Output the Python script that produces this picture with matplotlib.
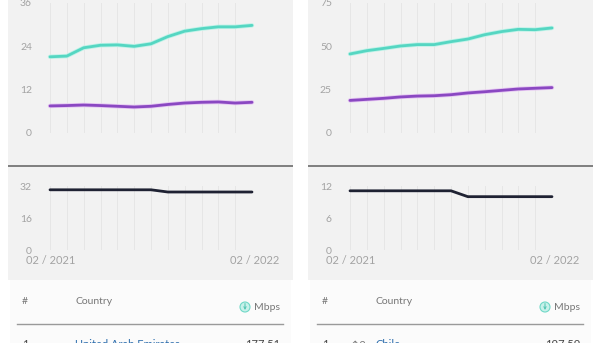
import matplotlib
matplotlib.use("Agg")
import matplotlib.pyplot as plt
import matplotlib.patheffects as pe
from matplotlib.patches import Rectangle, Circle

W, H = 600, 343
plt.rcParams['font.family'] = ['Lato', 'DejaVu Sans']

months = ['02 / 2021', '03 / 2021', '04 / 2021', '05 / 2021', '06 / 2021', '07 / 2021',
          '08 / 2021', '09 / 2021', '10 / 2021', '11 / 2021', '12 / 2021', '01 / 2022', '02 / 2022']

mobile_download = [21.1, 21.3, 23.6, 24.3, 24.4, 24.0, 24.7, 26.7, 28.2, 28.9, 29.4, 29.4, 29.8]
mobile_upload = [7.5, 7.6, 7.75, 7.6, 7.4, 7.2, 7.4, 7.9, 8.3, 8.5, 8.6, 8.3, 8.5]
mobile_latency = [30.1, 30.1, 30.1, 30.1, 30.1, 30.1, 30.1, 29.0, 29.0, 29.0, 29.0, 29.0, 29.0]
mobile_speed_ticks = [0, 12, 24, 36]
mobile_latency_ticks = [0, 16, 32]

fixed_download = [45.6, 47.5, 48.8, 50.2, 51.0, 51.0, 52.7, 54.2, 56.7, 58.5, 59.8, 59.6, 60.6]
fixed_upload = [18.8, 19.4, 20.0, 20.8, 21.3, 21.5, 22.1, 23.1, 23.8, 24.6, 25.4, 25.8, 26.2]
fixed_latency = [11.1, 11.1, 11.1, 11.1, 11.1, 11.1, 11.1, 10.0, 10.0, 10.0, 10.0, 10.0, 10.0]
fixed_speed_ticks = [0, 25, 50, 75]
fixed_latency_ticks = [0, 6, 12]

table_header = ['#', 'Country', 'Mbps']
left_row = ['1', '', 'United Arab Emirates', '177.51']
right_row = ['1', '\u21912', 'Chile', '197.59']

CYAN = '#55d6c2'
PURPLE = '#8a48c2'
DARK = '#1f2233'
TICK = '#a3a3a3'
PANEL = '#f2f2f2'


def box(x0, y0, x1, y1):
    return [x0 / W, 1 - y1 / H, (x1 - x0) / W, (y1 - y0) / H]


fig = plt.figure(figsize=(W / 100, H / 100), dpi=100)
fig.patch.set_facecolor('white')

bg = fig.add_axes([0, 0, 1, 1])
bg.set_xlim(0, W)
bg.set_ylim(H, 0)
bg.axis('off')

for off in (0, 300):
    # gray panel
    bg.add_patch(Rectangle((off + 8, -5), 285, 285, facecolor=PANEL, edgecolor='none'))
    # table area
    bg.add_patch(Rectangle((off + 10, 280), 281, 70, facecolor='#fbfbfb', edgecolor='none'))
    # divider
    bg.plot([off + 8, off + 293], [166, 166], color='#6b6b6b', lw=1.2, solid_capstyle='butt')


def style(ax, ticks, pad):
    ax.set_facecolor('none')
    for s in ax.spines.values():
        s.set_visible(False)
    ax.set_xlim(0, len(months) - 1)
    ax.set_ylim(ticks[0], ticks[-1])
    ax.set_yticks(ticks)
    ax.set_yticklabels([str(t) for t in ticks])
    ax.set_xticks(range(len(months)))
    ax.set_xticklabels([])
    ax.tick_params(axis='both', length=0, labelsize=7.5, labelcolor=TICK, pad=pad)
    ax.grid(axis='x', color='#e6e6e6', lw=0.7)
    ax.grid(axis='y', visible=False)
    ax.set_axisbelow(True)


panels = [
    (0, mobile_download, mobile_upload, mobile_latency, mobile_speed_ticks, mobile_latency_ticks, left_row),
    (300, fixed_download, fixed_upload, fixed_latency, fixed_speed_ticks, fixed_latency_ticks, right_row),
]

for off, dl, ul, lat, sticks, lticks, row in panels:
    x0 = off + 50
    x1 = off + 252
    ax = fig.add_axes(box(x0, 3, x1, 133))
    style(ax, sticks, 13)
    xs = range(len(months))
    ax.plot(xs, dl, color=CYAN, lw=2.0, clip_on=False, solid_capstyle='round',
            path_effects=[pe.Stroke(linewidth=3.2, foreground='#bff2e8'), pe.Normal()])
    ax.plot(xs, ul, color=PURPLE, lw=2.0, clip_on=False, solid_capstyle='round',
            path_effects=[pe.Stroke(linewidth=3.2, foreground='#e6c6f2'), pe.Normal()])

    ax2 = fig.add_axes(box(x0, 186, x1, 250))
    style(ax2, lticks, 13)
    ax2.plot(xs, lat, color=DARK, lw=2.0, clip_on=False, solid_capstyle='round')

    # x labels
    fig.text((off + 26) / W, 1 - 261 / H, months[0], fontsize=8, color=TICK, ha='left', va='center')
    fig.text((off + 279) / W, 1 - 261 / H, months[-1], fontsize=8, color=TICK, ha='right', va='center')

    # table header
    bg.text(off + 22, 302, table_header[0], fontsize=7.5, color='#777777', ha='left', va='center')
    bg.text(off + 75, 302, table_header[1], fontsize=7.5, color='#777777', ha='left', va='center')
    bg.text(off + 280, 307, table_header[2], fontsize=7.5, color='#777777', ha='right', va='center')
    bg.add_patch(Circle((off + 245, 307), 5, facecolor='#c8f1ea', edgecolor='#6fd8c7', lw=0.8))
    bg.annotate('', xy=(off + 245, 310), xytext=(off + 245, 303.5),
                arrowprops=dict(arrowstyle='->', color='#4fc5b2', lw=0.7, shrinkA=0, shrinkB=0,
                                mutation_scale=4))
    bg.plot([off + 17, off + 283], [324, 324], color='#9a9a9a', lw=1.0)

    # first row (cut off by the bottom edge)
    bg.text(off + 22, 345, row[0], fontsize=8, color='#444444', ha='left', va='center')
    if row[1]:
        bg.text(off + 51, 345, row[1], fontsize=8, color='#777777', ha='left', va='center')
    bg.text(off + 75, 345, row[2], fontsize=8, color='#2f6fae', ha='left', va='center')
    bg.text(off + 280, 345, row[3], fontsize=8, color='#444444', ha='right', va='center')

fig.savefig('out.png', dpi=100)
